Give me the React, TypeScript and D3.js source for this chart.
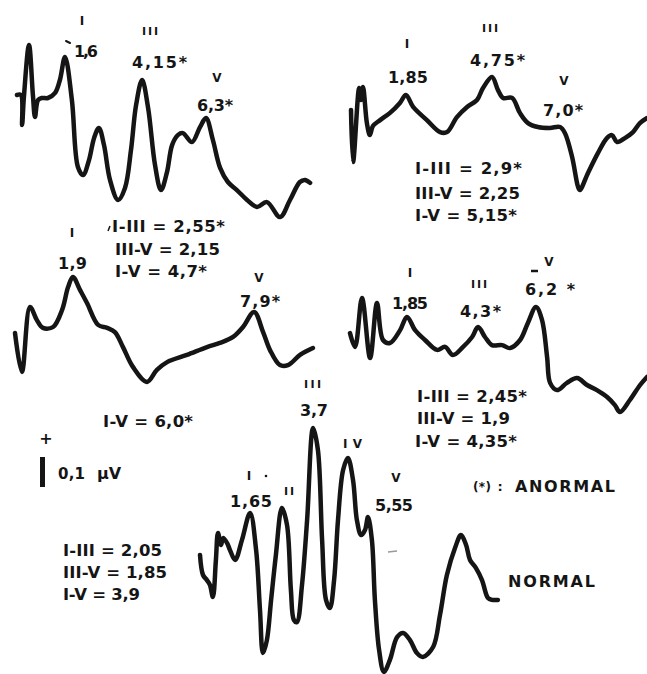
import React from "react";
import * as d3 from "d3";

// Waveforms: [latency (ms), amplitude (µV)]
const traceA: [number, number][] = [
  [0, 0], [0.13, 0], [0.17, -0.1], [0.23, -0.007], [0.4, 0.167], [0.53, 0], [0.6, -0.073], [0.7, -0.017],
  [0.83, -0.01], [1.03, -0.01], [1.27, 0.007], [1.43, 0.05], [1.6, 0.127], [1.83, -0.017], [2.03, -0.24],
  [2.2, -0.267], [2.4, -0.217], [2.57, -0.143], [2.73, -0.11], [2.9, -0.167], [3.1, -0.283], [3.37, -0.35],
  [3.6, -0.31], [3.8, -0.183], [3.97, -0.033], [4.17, 0.05], [4.37, -0.043], [4.6, -0.233], [4.8, -0.317],
  [5.0, -0.257], [5.17, -0.167], [5.37, -0.133], [5.53, -0.127], [5.83, -0.157], [6.1, -0.107], [6.3, -0.077],
  [6.53, -0.15], [6.77, -0.243], [7.03, -0.29], [7.33, -0.317], [7.67, -0.35], [8.0, -0.373], [8.33, -0.357],
  [8.77, -0.407], [9.1, -0.35], [9.43, -0.29], [9.6, -0.283], [9.77, -0.293],
];
const traceB: [number, number][] = [
  [0, 0.067], [0.07, -0.107], [0.27, 0.14], [0.33, 0.1], [0.4, 0.143], [0.53, 0.023], [0.63, -0.017],
  [0.73, 0.013], [0.97, 0.033], [1.3, 0.057], [1.63, 0.09], [1.83, 0.117], [2.07, 0.077], [2.53, 0.033],
  [2.97, -0.007], [3.2, -0.007], [3.53, 0.043], [3.87, 0.077], [4.2, 0.1], [4.4, 0.14], [4.7, 0.177],
  [4.9, 0.133], [5.07, 0.107], [5.37, 0.107], [5.63, 0.057], [5.9, 0.023], [6.23, 0.01], [6.63, 0.007],
  [6.97, 0.01], [7.13, -0.01], [7.37, -0.09], [7.57, -0.19], [7.63, -0.2], [7.9, -0.143], [8.23, -0.077],
  [8.53, -0.027], [8.7, -0.017], [8.87, -0.04], [9.13, -0.027], [9.4, -0.007], [9.63, 0.023], [9.87, 0.04],
];
const traceC: [number, number][] = [
  [0, -0.01], [0.23, -0.14], [0.5, 0.077], [0.73, 0.033], [0.93, 0.007], [1.27, 0.01], [1.57, 0.067],
  [1.77, 0.143], [1.93, 0.177], [2.17, 0.133], [2.4, 0.09], [2.77, 0.017], [3.07, 0.007], [3.33, -0.007],
  [3.6, -0.057], [3.93, -0.123], [4.4, -0.173], [4.73, -0.133], [5.07, -0.107], [5.73, -0.083], [6.4, -0.057],
  [6.83, -0.043], [7.27, -0.023], [7.6, 0.01], [7.97, 0.06], [8.27, -0.007], [8.5, -0.067], [8.83, -0.117],
  [9.1, -0.117], [9.5, -0.083], [9.93, -0.06],
];
const traceD: [number, number][] = [
  [0, 0.023], [0.17, -0.023], [0.4, 0.14], [0.67, -0.06], [0.9, 0.123], [1.1, 0], [1.33, -0.01],
  [1.67, 0.033], [1.9, 0.077], [2.17, 0.033], [2.5, 0], [2.9, -0.033], [3.17, -0.023], [3.43, -0.05],
  [3.77, -0.023], [4.07, 0.01], [4.27, 0.043], [4.5, 0.01], [4.73, -0.017], [5.07, -0.017], [5.33, -0.027],
  [5.67, 0], [5.93, 0.057], [6.2, 0.11], [6.4, 0.067], [6.57, -0.057], [6.67, -0.143], [6.9, -0.167],
  [7.23, -0.143], [7.57, -0.127], [7.9, -0.15], [8.23, -0.167], [8.57, -0.19], [8.83, -0.217], [9.0, -0.24],
  [9.33, -0.2], [9.67, -0.15], [9.9, -0.123],
];
const traceNormal: [number, number][] = [
  [0, 0.017], [0.1, -0.05], [0.23, -0.067], [0.33, -0.083], [0.43, -0.123], [0.53, 0], [0.6, 0.09],
  [0.7, 0.05], [0.77, 0.073], [0.9, 0.057], [1.0, 0.033], [1.17, 0], [1.4, 0.067], [1.67, 0.157],
  [1.87, 0.033], [2.0, -0.167], [2.1, -0.31], [2.23, -0.267], [2.37, -0.133], [2.53, 0.017], [2.73, 0.173],
  [2.9, 0.117], [3.03, -0.1], [3.13, -0.2], [3.23, -0.207], [3.4, -0.083], [3.57, 0.133], [3.77, 0.44],
  [3.93, 0.367], [4.07, 0.067], [4.2, -0.133], [4.33, -0.16], [4.47, -0.067], [4.6, 0.133], [4.77, 0.3],
  [4.93, 0.34], [5.1, 0.267], [5.23, 0.133], [5.37, 0.083], [5.5, 0.1], [5.6, 0.143], [5.73, 0.067],
  [5.83, -0.133], [5.97, -0.3], [6.13, -0.373], [6.33, -0.333], [6.57, -0.257], [6.77, -0.243], [7.0, -0.267],
  [7.23, -0.31], [7.43, -0.323], [7.77, -0.29], [8.0, -0.183], [8.23, -0.05], [8.5, 0.04], [8.7, 0.083],
  [8.87, 0.05], [9.0, 0], [9.2, -0.027], [9.4, -0.067], [9.6, -0.127], [9.73, -0.133], [9.93, -0.133],
];

const scaleBarValue = 0.1; // µV

// Text annotations
const peakTexts = ["I", "1,6", "III", "4,15*", "V", "6,3*",
  "I", "1,85", "III", "4,75*", "V", "7,0*",
  "I", "1,9", "V", "7,9*",
  "I", "1,85", "III", "4,3*", "V", "6,2 *",
  "III", "3,7", "IV", "I", "1,65", "II", "V", "5,55"];
const intervalTexts = ["I-III = 2,55*", "III-V = 2,15", "I-V = 4,7*",
  "I-III = 2,9*", "III-V = 2,25", "I-V = 5,15*",
  "I-V = 6,0*",
  "I-III = 2,45*", "III-V = 1,9", "I-V = 4,35*",
  "I-III = 2,05", "III-V = 1,85", "I-V = 3,9"];

// layout: [x, baseline, textLength (0 = centred single glyph), fontSize]
const peakLayout: [number, number, number, number][] = [
  [82, 25, 0, 12], [74, 57, 24, 16], [142, 35, 16, 11], [132, 68, 55, 16], [217, 82, 0, 12], [197, 111, 36, 16],
  [407, 48, 0, 12], [388, 83, 40, 16], [482, 32, 16, 11], [470, 66, 55, 16], [564, 85, 0, 12], [543, 116, 40, 16],
  [72, 237, 0, 12], [58, 269, 29, 16], [259, 282, 0, 12], [240, 307, 40, 16],
  [410, 277, 0, 12], [392, 309, 36, 16], [471, 288, 16, 11], [460, 317, 41, 16], [549, 266, 0, 12], [525, 295, 50, 16],
  [304, 388, 17, 11], [300, 416, 28, 16], [343, 448, 19, 12], [249, 480, 0, 12], [230, 507, 42, 16], [284, 495, 10, 11], [396, 482, 0, 12], [375, 511, 38, 16],
];
const intervalLayout: [number, number, number][] = [
  [112, 232, 113], [115, 255, 105], [115, 277, 92],
  [415, 174, 107], [415, 199, 105], [415, 221, 102],
  [103, 427, 90],
  [417, 402, 110], [417, 424, 93], [415, 447, 102],
  [63, 556, 99], [63, 578, 104], [63, 600, 77],
];

const panels = [
  { data: traceA, x0: 17, y0: 95 },
  { data: traceB, x0: 351, y0: 130 },
  { data: traceC, x0: 15, y0: 330 },
  { data: traceD, x0: 350, y0: 340 },
  { data: traceNormal, x0: 200, y0: 560 },
];

const FONT = "'DejaVu Sans', 'Liberation Sans', Arial, sans-serif";
const INK = "#151515";

export default function App() {
  const W = 647, H = 674;
  const pxPerMs = 30, pxPerUv = 300;
  const line = d3.line<[number, number]>().curve(d3.curveCatmullRom.alpha(0.5));

  const paths = panels.map((p, i) => {
    const x = d3.scaleLinear().domain([0, 10]).range([p.x0, p.x0 + 10 * pxPerMs]);
    const y = d3.scaleLinear().domain([-0.5, 0.5]).range([p.y0 + 0.5 * pxPerUv, p.y0 - 0.5 * pxPerUv]);
    const d = line(p.data.map(([t, v]) => [x(t), y(v)] as [number, number]));
    return <path key={i} d={d || ""} fill="none" stroke={INK} strokeWidth={4.5} strokeLinejoin="round" strokeLinecap="round" />;
  });

  const barScale = d3.scaleLinear().domain([0, 0.5]).range([487, 487 - 0.5 * pxPerUv]);

  const txt = (s: string, x: number, y: number, w: number, fs: number, key: string) =>
    w > 0 ? (
      <text key={key} x={x} y={y} fontSize={fs} textLength={w} lengthAdjust="spacing">{s}</text>
    ) : (
      <text key={key} x={x} y={y} fontSize={fs} textAnchor="middle">{s}</text>
    );

  return (
    <svg width={W} height={H} style={{ position: "absolute", left: 0, top: 0, background: "#fff" }}>
      <rect width={W} height={H} fill="#fff" />
      {paths}
      <g fontFamily={FONT} fontWeight={700} fill={INK}>
        {peakTexts.map((s, i) => txt(s, peakLayout[i][0], peakLayout[i][1], peakLayout[i][2], peakLayout[i][3], "p" + i))}
        {intervalTexts.map((s, i) => txt(s, intervalLayout[i][0], intervalLayout[i][1], intervalLayout[i][2], 16.5, "t" + i))}
        {txt("(*)", 473, 491, 18, 12, "a1")}
        {txt(":", 500, 491, 0, 13, "a2")}
        {txt("ANORMAL", 515, 492, 100, 16, "a3")}
        {txt("NORMAL", 508, 587, 87, 16, "n1")}
        {txt("+", 46, 444, 0, 16, "s1")}
        {txt("0,1", 58, 479, 27, 15, "s2")}
        <text x={97} y={479} fontSize={16}>μV</text>
      </g>
      {/* scale bar */}
      <rect x={40} y={barScale(scaleBarValue)} width={5} height={barScale(0) - barScale(scaleBarValue)} fill={INK} />
      {/* small marks */}
      <line x1={66} y1={41} x2={70} y2={43} stroke={INK} strokeWidth={2} strokeLinecap="round" />
      <line x1={108} y1={231} x2={110} y2={226} stroke={INK} strokeWidth={1.5} />
      <line x1={531} y1={271} x2={538} y2={271} stroke={INK} strokeWidth={2.5} />
      <circle cx={266} cy={476} r={1.3} fill={INK} />
      <line x1={388} y1={552} x2={397} y2={551} stroke="#999" strokeWidth={1.5} />
    </svg>
  );
}
